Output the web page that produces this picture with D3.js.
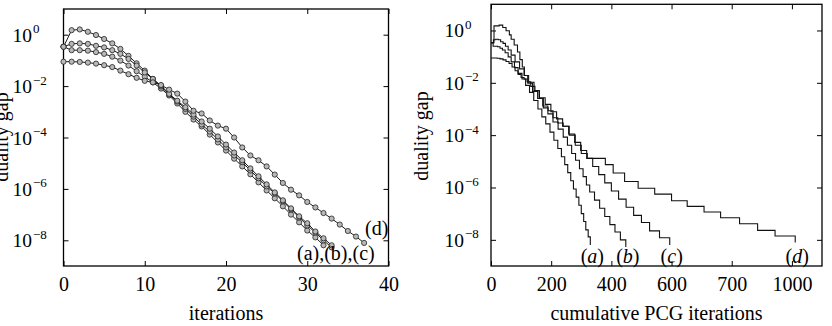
<!DOCTYPE html>
<html>
<head>
<meta charset="utf-8">
<script src="https://cdnjs.cloudflare.com/ajax/libs/d3/7.8.5/d3.min.js"></script>
<style>
  body { margin: 0; background: #fff; }
  svg { display: block; }
  text { font-family: "Liberation Serif", "Times New Roman", serif; fill: #000; }
</style>
</head>
<body>
<svg width="832" height="326"></svg>
<script>
// duality gap after each Newton iteration, one array per problem (a)..(d)
var gapA = [3.4e-1, 2.5e-1, 2.5e-1, 2.4e-1, 2.1e-1, 1.8e-1, 1.4e-1, 9.8e-2, 6.3e-2, 3.8e-2,
            2.3e-2, 1.4e-2, 8.0e-3, 4.3e-3, 2.1e-3, 1.0e-3, 5.0e-4, 2.7e-4, 1.3e-4, 6.4e-5,
            3.1e-5, 1.5e-5, 7.5e-6, 3.7e-6, 1.8e-6, 8.7e-7, 4.3e-7, 2.1e-7, 1.0e-7, 5.0e-8,
            2.4e-8, 1.3e-8, 6.4e-9];
var gapB = [3.4e-1, 1.5, 1.6, 1.3, 9.7e-1, 6.8e-1, 4.6e-1, 2.8e-1, 1.5e-1, 7.7e-2,
            4.0e-2, 1.9e-2, 9.6e-3, 4.7e-3, 2.5e-3, 1.3e-3, 6.5e-4, 3.2e-4, 1.7e-4, 8.4e-5,
            4.1e-5, 2.0e-5, 1.1e-5, 5.2e-6, 2.6e-6, 1.25e-6, 6.7e-7, 3.3e-7, 1.6e-7, 7.8e-8,
            3.8e-8, 2.0e-8, 1.0e-8, 5.3e-9];
var gapC = [3.4e-1, 4.4e-1, 4.6e-1, 4.4e-1, 3.7e-1, 3.2e-1, 2.5e-1, 1.8e-1, 1.14e-1, 6.3e-2,
            3.4e-2, 1.9e-2, 1.05e-2, 5.0e-3, 2.7e-3, 1.5e-3, 7.8e-4, 4.2e-4, 2.2e-4, 1.1e-4,
            5.3e-5, 2.6e-5, 1.3e-5, 6.3e-6, 3.1e-6, 1.5e-6, 7.3e-7, 3.6e-7, 1.75e-7, 8.6e-8,
            4.6e-8, 2.2e-8, 1.2e-8, 6.4e-9];
var gapD = [8.9e-2, 8.9e-2, 8.7e-2, 8.2e-2, 7.5e-2, 6.5e-2, 5.5e-2, 4.0e-2, 2.9e-2, 2.1e-2,
            1.6e-2, 1.4e-2, 1.1e-2, 7.3e-3, 5.1e-3, 2.5e-3, 1.1e-3, 8.6e-4, 4.6e-4, 2.9e-4,
            2.2e-4, 1.0e-4, 4.1e-5, 2.0e-5, 1.3e-5, 7.5e-6, 3.6e-6, 1.7e-6, 9.3e-7, 5.6e-7,
            3.1e-7, 1.9e-7, 1.15e-7, 7.0e-8, 4.1e-8, 2.3e-8, 1.4e-8, 7.9e-9];

// cumulative PCG iterations reached at each Newton iteration
var pcgA = [0, 7, 14, 22, 30, 38, 47, 57, 67, 78, 90, 103, 115, 128, 142, 156, 169, 182, 196, 209,
            222, 234, 245, 255, 265, 274, 283, 292, 300, 308, 315, 323, 330];
var pcgB = [0, 10, 27, 39, 50, 61, 67, 77, 88, 96, 104, 111, 122, 138, 155, 172, 189, 206, 223, 240,
            254, 268, 281, 294, 306, 317, 328, 344, 361, 378, 395, 412, 430, 448];
var pcgC = [0, 8, 16, 24, 32, 40, 48, 57, 67, 80, 95, 110, 125, 143, 161, 180, 199, 218, 238, 258,
            278, 298, 318, 338, 358, 378, 400, 424, 449, 474, 500, 527, 560, 594];
var pcgD = [0, 10, 20, 30, 40, 50, 60, 70, 80, 90, 100, 110, 120, 132, 146, 160, 174, 190, 206, 222,
            240, 260, 280, 300, 320, 380, 406, 444, 489, 544, 600, 652, 708, 763, 826, 886, 944, 1011];

var seriesNames = ["a", "b", "c", "d"];

// tick values and labels
var leftXTicks = [0, 10, 20, 30, 40];
var rightXTicks = [0, 200, 400, 600, 800, 1000];
var rightXLabels = ["0", "200", "400", "600", "700", "1000"];
var yTicks = [1e0, 1e-2, 1e-4, 1e-6, 1e-8];
var yExponents = ["0", "\u22122", "\u22124", "\u22126", "\u22128"];

var gaps = [gapA, gapB, gapC, gapD],
    pcgs = [pcgA, pcgB, pcgC, pcgD];

var svg = d3.select("svg");

// scales for both panels
var xLeft = d3.scaleLinear().domain([0, 40]).range([63.5, 388.5]);
var yLeft = d3.scaleLog().domain([1e-9, 1e1]).range([266, 9]);
var xRight = d3.scaleLinear().domain([0, 1100]).range([491, 822]);
var yRight = d3.scaleLog().domain([1e-9, 1e1]).range([266, 4.3]);

//draws the box, the inward ticks and the tick labels of one panel
function drawFrame(x, y, xTicks, xLabels, xTitle, yLabelX) {
  var x0 = x.range()[0], x1 = x.range()[1],
      y0 = y.range()[0], y1 = y.range()[1];
  var g = svg.append("g");

  g.append("g")
      .attr("transform", "translate(0," + y0 + ")")
      .call(d3.axisBottom(x).tickValues(xTicks).tickSize(-5).tickPadding(11)
        .tickFormat(function(d, i) { return xLabels[i]; }));
  g.append("g")
      .attr("transform", "translate(0," + y1 + ")")
      .call(d3.axisTop(x).tickValues(xTicks).tickSize(-5).tickFormat(""));
  g.append("g")
      .attr("transform", "translate(" + x0 + ",0)")
      .call(d3.axisLeft(y).tickValues(yTicks).tickSize(-5).tickFormat(""));
  g.append("g")
      .attr("transform", "translate(" + x1 + ",0)")
      .call(d3.axisRight(y).tickValues(yTicks).tickSize(-5).tickFormat(""));

  g.selectAll(".domain").remove();
  g.selectAll(".tick line").attr("stroke", "#000").attr("stroke-width", 1);
  g.selectAll(".tick text")
      .attr("font-family", "Liberation Serif, Times New Roman, serif")
      .attr("font-size", 20)
      .attr("fill", "#000");

  g.append("rect")
      .attr("x", x0).attr("y", y1)
      .attr("width", x1 - x0).attr("height", y0 - y1)
      .attr("fill", "none").attr("stroke", "#000").attr("stroke-width", 1.3);

  // powers of ten on the y axis
  var labels = g.append("g").selectAll("g")
    .data(yTicks)
    .enter().append("g")
      .attr("transform", function(d) { return "translate(" + yLabelX + "," + (y(d) + 7) + ")"; });
  labels.append("text")
      .attr("text-anchor", "end")
      .attr("font-size", 19.5)
      .text("10");
  labels.append("text")
      .attr("x", 1)
      .attr("y", -8.5)
      .attr("font-size", 13)
      .text(function(d, i) { return yExponents[i]; });

  g.append("text")
      .attr("x", (x0 + x1) / 2)
      .attr("y", 320)
      .attr("text-anchor", "middle")
      .attr("font-size", 20)
      .text(xTitle);
}

drawFrame(xLeft, yLeft, leftXTicks, leftXTicks.map(String), "iterations", 32);
drawFrame(xRight, yRight, rightXTicks, rightXLabels, "cumulative PCG iterations", 464);

// y axis titles
svg.append("text")
    .attr("transform", "translate(8,137) rotate(-90)")
    .attr("text-anchor", "middle")
    .attr("font-size", 20)
    .text("duality gap");
svg.append("text")
    .attr("transform", "translate(428,136) rotate(-90)")
    .attr("text-anchor", "middle")
    .attr("font-size", 20)
    .text("duality gap");

// left panel: gap against Newton iterations, with circle markers
var lineLeft = d3.line()
    .x(function(d, i) { return xLeft(i); })
    .y(function(d) { return yLeft(d); });

var left = svg.append("g")
  .selectAll("g")
  .data(gaps)
  .enter().append("g");

left.append("path")
    .attr("d", lineLeft)
    .attr("fill", "none")
    .attr("stroke", "#000")
    .attr("stroke-width", 0.9);

left.selectAll("circle")
    .data(function(d) { return d; })
    .enter().append("circle")
      .attr("cx", function(d, i) { return xLeft(i); })
      .attr("cy", function(d) { return yLeft(d); })
      .attr("r", 2.6)
      .attr("fill", "#b8b8b8")
      .attr("stroke", "#222")
      .attr("stroke-width", 0.8);

svg.append("text")
    .attr("x", 297).attr("y", 260)
    .attr("font-size", 20)
    .text("(a),(b),(c)");
svg.append("text")
    .attr("x", 365).attr("y", 235)
    .attr("font-size", 20)
    .text("(d)");

// right panel: gap against cumulative PCG iterations, as stairs
var lineRight = d3.line()
    .curve(d3.curveStepAfter)
    .x(function(d) { return xRight(d[0]); })
    .y(function(d) { return yRight(d[1]); });

svg.append("g")
  .selectAll("path")
  .data(gaps.map(function(g, k) { return g.map(function(v, i) { return [pcgs[k][i], v]; }); }))
  .enter().append("path")
    .attr("d", lineRight)
    .attr("fill", "none")
    .attr("stroke", "#111")
    .attr("stroke-width", 1.1);

var tags = svg.append("g")
  .selectAll("text")
  .data(seriesNames)
  .enter().append("text")
    .attr("x", function(d, i) { return xRight(pcgs[i][pcgs[i].length - 1]) + 2; })
    .attr("y", 263)
    .attr("text-anchor", "middle")
    .attr("font-size", 20);
tags.append("tspan").text("(");
tags.append("tspan").attr("font-style", "italic").text(function(d) { return d; });
tags.append("tspan").text(")");
</script>
</body>
</html>
